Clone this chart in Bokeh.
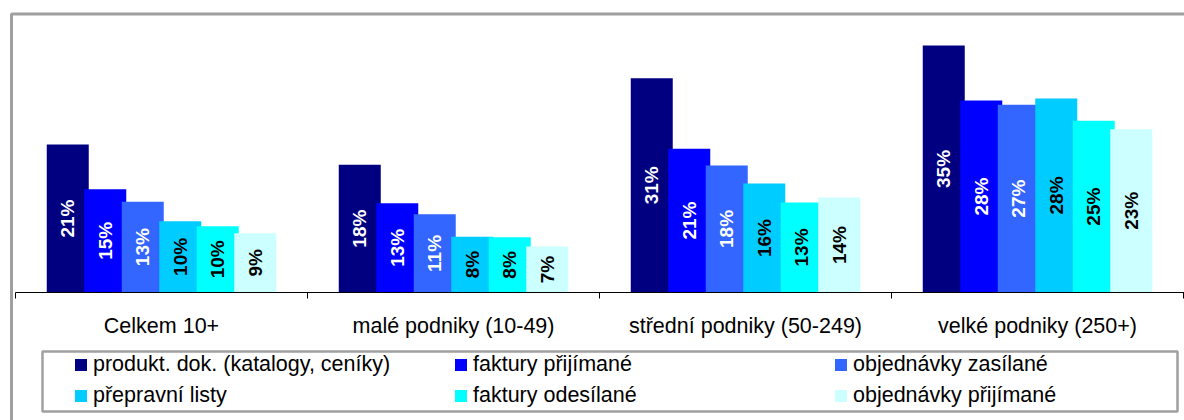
import numpy as np
from bokeh.plotting import figure
from bokeh.models import ColumnDataSource, Range1d, Legend, LegendItem
from bokeh.core.properties import value
from bokeh.embed import file_html
from bokeh.resources import INLINE

# ---------------- data ----------------
categories = ["Celkem 10+", "malé podniky (10-49)", "střední podniky (50-249)", "velké podniky (250+)"]
series_names = [
    "produkt. dok. (katalogy, ceníky)",
    "faktury přijímané",
    "objednávky zasílané",
    "přepravní listy",
    "faktury odesílané",
    "objednávky přijímané",
]
produkt_dok = [21.2, 18.3, 30.7, 35.4]
faktury_prijimane = [14.8, 12.8, 20.6, 27.5]
objednavky_zasilane = [13.0, 11.2, 18.2, 26.9]
prepravni_listy = [10.2, 8.0, 15.6, 27.8]
faktury_odesilane = [9.5, 7.9, 12.9, 24.6]
objednavky_prijimane = [8.5, 6.6, 13.6, 23.4]
series_values = [produkt_dok, faktury_prijimane, objednavky_zasilane,
                 prepravni_listy, faktury_odesilane, objednavky_prijimane]

colors = ["#000080", "#0000FF", "#3366FF", "#00CCFF", "#00FFFF", "#CCFFFF"]
label_colors = ["white", "white", "white", "black", "black", "black"]

# ---------------- layout helpers (pixels -> data) ----------------
W, H = 1184, 420
PX_CAT = 292.0      # pixels per category
PX_PCT = 6.98       # pixels per percent
X0 = 15             # x of first category boundary
Y0 = 292            # y of the baseline

def dx(px):
    return (px - X0) / PX_CAT

def dy(py):
    return (Y0 - py) / PX_PCT

FONT_NAME = "Liberation Sans"
FONT = value(FONT_NAME)

p = figure(width=W, height=H,
           x_range=Range1d(dx(0), dx(W)), y_range=Range1d(dy(H), dy(0)),
           output_backend="svg", toolbar_location=None,
           x_axis_type=None, y_axis_type=None, min_border=0,
           outline_line_color=None, background_fill_color="white",
           border_fill_color="white")

step = 37.5 / PX_CAT
bar_w = 42.0 / PX_CAT
n = len(series_values)

renderers = []
for i, (vals, col) in enumerate(zip(series_values, colors)):
    xs = [k + 0.5 + (i - (n - 1) / 2) * step for k in range(len(categories))]
    src = ColumnDataSource(dict(
        x=xs, top=vals, mid=[v / 2 for v in vals],
        lab=[f"{int(v + 0.5)}%" for v in vals]))
    r = p.vbar(x="x", top="top", bottom=0, width=bar_w, source=src,
               fill_color=col, line_color=None)
    renderers.append(r)
    p.text(x="x", y="mid", text="lab", source=src, angle=np.pi / 2,
           text_align="center", text_baseline="middle",
           text_font=FONT, text_font_style="bold", text_font_size="19px",
           text_color=label_colors[i])

# x axis line and boundary ticks
p.segment(x0=[dx(X0)], y0=[0], x1=[dx(W + 5)], y1=[0], line_color="black", line_width=1)
bounds = list(range(len(categories) + 1))
p.segment(x0=bounds, y0=[0] * len(bounds), x1=bounds, y1=[dy(Y0 + 6)] * len(bounds),
          line_color="black", line_width=1)

# category labels
p.text(x=[k + 0.5 for k in range(len(categories))], y=[dy(325)] * len(categories),
       text=categories, text_align="center", text_baseline="middle",
       text_font=FONT, text_font_size="21.5px", text_color="black")

# outer chart border (left and top visible)
p.line(x=[dx(11), dx(11), dx(W + 20)], y=[dy(H + 20), dy(13.5), dy(13.5)],
       line_color="#a0a0a0", line_width=3)

# legend box
p.quad(left=[dx(42)], right=[dx(1177)], top=[dy(351)], bottom=[dy(411)],
       fill_color="white", line_color="#a0a0a0", line_width=2.5, level="underlay")

items = [LegendItem(label=nm, renderers=[r]) for nm, r in zip(series_names, renderers)]
legend = Legend(items=items, orientation="horizontal", ncols=3, location=(73, 12),
                glyph_width=15, glyph_height=15, label_standoff=5, label_width=354,
                label_height=24, spacing=6, padding=0, margin=0,
                border_line_alpha=0, background_fill_alpha=0,
                label_text_font=FONT_NAME, label_text_font_size="21.5px",
                label_text_color="black")
p.add_layout(legend)

open("out.html", "w").write(file_html(p, INLINE))
